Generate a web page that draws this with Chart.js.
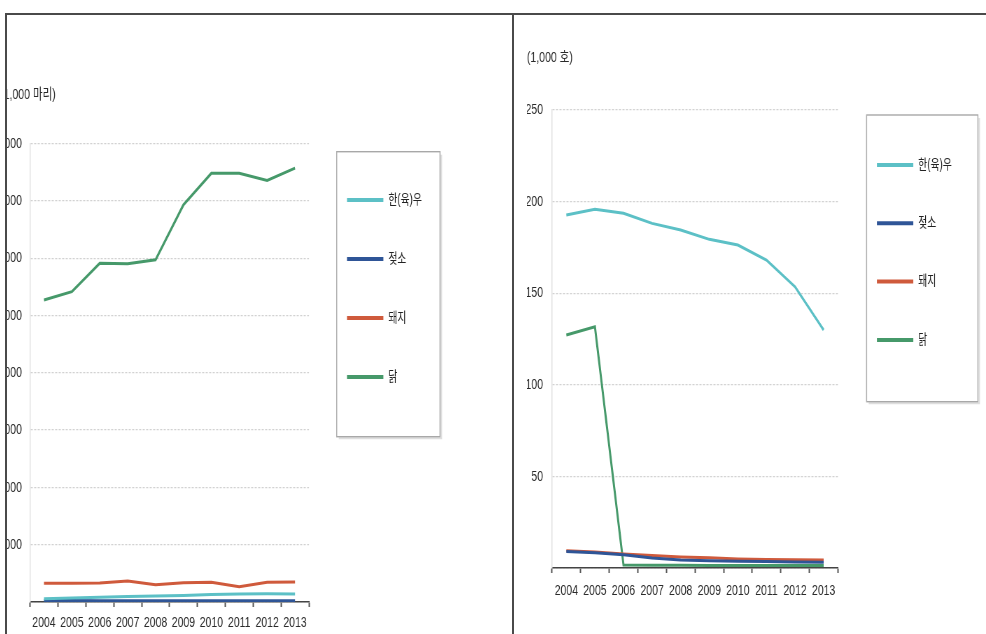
<!DOCTYPE html>
<html lang="ko">
<head>
<meta charset="utf-8">
<script src="https://cdn.jsdelivr.net/npm/chart.js@4.4.1/dist/chart.umd.min.js"></script>
<style>
  html, body { margin: 0; padding: 0; background: #fff; width: 986px; height: 634px; overflow: hidden; }
  .panel { position: absolute; top: 13px; height: 640px; overflow: hidden;
           border-top: 2px solid #4a4a4a; border-left: 2px solid #4a4a4a; }
  #panelHead { left: 5px; width: 507px; }
  #panelFarm { left: 512px; width: 480px; }
  canvas { position: absolute; top: 0; }
</style>
</head>
<body>
<div class="panel" id="panelHead">
  <canvas id="chartHead" width="770" height="619" style="left:-32px; width:539px; height:619px;"></canvas>
</div>
<div class="panel" id="panelFarm">
  <canvas id="chartFarm" width="673" height="619" style="left:1px; width:471px; height:619px;"></canvas>
</div>
<script>
// Both canvases are drawn wider than they are shown, which gives the condensed lettering.
const FONT = "'Liberation Sans', 'Noto Sans CJK KR', sans-serif";

const years = ['2004', '2005', '2006', '2007', '2008', '2009', '2010', '2011', '2012', '2013'];
const seriesNames = ['한(육)우', '젖소', '돼지', '닭'];
const seriesColors = ['#5cc0c6', '#2f5597', '#cf5a3c', '#46996a'];

// 사육 마리수 (1,000 마리)
const headHanwoo  = [1100, 1400, 1700, 1900, 2100, 2300, 2600, 2800, 2900, 2800];
const headDairy   = [500, 480, 460, 450, 450, 440, 430, 400, 420, 420];
const headPig     = [6500, 6500, 6600, 7300, 6000, 6700, 6900, 5300, 6900, 7000];
const headChicken = [105400, 108300, 118200, 118000, 119400, 138600, 149600, 149600, 147100, 151400];
const headAxisMax = 160000;
const headAxisStep = 20000;

// 사육 가구수 (1,000 호)
const farmHanwoo  = [192.7, 195.8, 193.6, 188.1, 184.5, 179.4, 176.3, 168.1, 153.5, 129.9];
const farmDairy   = [9.0, 8.3, 7.2, 5.5, 4.3, 4.0, 3.7, 3.5, 3.3, 3.2];
const farmPig     = [9.4, 8.7, 7.6, 6.8, 6.0, 5.6, 4.9, 4.6, 4.5, 4.4];
const farmChicken = [127.2, 131.7, 1.6, 1.5, 1.5, 1.4, 1.4, 1.4, 1.3, 1.3];
const farmAxisMax = 250;
const farmAxisStep = 50;

function makeDatasets(values) {
  return seriesNames.map((name, i) => ({
    label: name,
    data: values[i],
    borderColor: seriesColors[i],
    backgroundColor: seriesColors[i],
    borderWidth: 3,
    pointRadius: 0,
    tension: 0,
    fill: false
  }));
}

// Places the legend block and draws the framed box around it.
const legendPlace = {
  id: 'legendPlace',
  afterLayout(chart, args, o) {
    const lg = chart.legend;
    if (!lg) return;
    const p = lg.options.labels.padding;
    lg.left = o.x - p;
    lg.right = o.frame.x2;          // the legend clips its drawing to this box
    lg.top = o.y - p;
    lg.bottom = lg.top + lg.height;
  },
  afterDraw(chart, args, o) {
    const f = o.frame;
    const ctx = chart.ctx;
    ctx.save();
    ctx.strokeStyle = '#dedede';
    ctx.lineWidth = 2;
    ctx.beginPath();
    ctx.moveTo(f.x1 + 3, f.y2 + 1.5);
    ctx.lineTo(f.x2 + 2, f.y2 + 1.5);
    ctx.lineTo(f.x2 + 2, f.y1 + 3);
    ctx.stroke();
    ctx.strokeStyle = '#a8a8a8';
    ctx.lineWidth = 1.4;
    ctx.strokeRect(f.x1, f.y1, f.x2 - f.x1, f.y2 - f.y1);
    ctx.restore();
  }
};

function lineSwatches(chart) {
  return Chart.defaults.plugins.legend.labels.generateLabels(chart)
    .map(it => Object.assign(it, { lineWidth: 0, fillStyle: it.strokeStyle }));
}

function drawPanel(canvasId, unitText, values, yMax, yStep, g) {
  return new Chart(document.getElementById(canvasId), {
    type: 'line',
    data: { labels: years, datasets: makeDatasets(values) },
    options: {
      responsive: false,
      animation: false,
      events: [],
      layout: { padding: { left: g.padLeft, right: g.padRight, top: 0, bottom: 0 } },
      scales: {
        x: {
          offset: true,
          grid: { offset: true, drawOnChartArea: false, drawTicks: true, tickLength: 5, tickColor: '#555', tickWidth: 2 },
          border: { display: true, color: '#444', width: 1.6 },
          ticks: { padding: g.xPad, color: '#2a2a2a', autoSkip: false, maxRotation: 0,
                   font: { size: 15, family: FONT } },
          afterFit: s => { s.height = g.xHeight; }
        },
        y: {
          min: 0,
          max: yMax,
          grid: { color: '#d2d2d2', lineWidth: 1.2, drawTicks: false },
          border: { display: true, color: '#e2e2e2', width: 1.5, dash: [3, 2] },
          ticks: { stepSize: yStep, padding: g.yPad, color: '#2a2a2a',
                   font: { size: 15, family: FONT },
                   callback: v => (v === 0 ? '' : v.toLocaleString('en-US')) },
          afterFit: s => { s.width = g.yWidth; }
        }
      },
      plugins: {
        title: {
          display: true, text: unitText, align: 'start', color: '#2a2a2a',
          font: { size: 15, family: FONT, weight: 'normal' },
          padding: { top: g.titleTop, bottom: g.titleBottom }
        },
        legend: {
          position: 'right', align: 'start', maxWidth: 140,
          labels: { boxWidth: 52, boxHeight: 4, padding: g.legendGap, color: '#222',
                    font: { size: 14, family: FONT }, generateLabels: lineSwatches }
        },
        tooltip: { enabled: false },
        legendPlace: { x: g.legendX, y: g.legendY, frame: g.frame }
      }
    },
    plugins: [legendPlace]
  });
}

drawPanel('chartHead', '(1,000 마리)',
  [headHanwoo, headDairy, headPig, headChicken], headAxisMax, headAxisStep,
  { padLeft: 36, padRight: 152.9, yWidth: 42.6, yPad: 11.6, xHeight: 32, xPad: 7,
    titleTop: 71, titleBottom: 39.5, legendGap: 45, legendX: 531.4, legendY: 178,
    frame: { x1: 516.7, y1: 136.7, x2: 664.3, y2: 421.7 } });

drawPanel('chartFarm', '(1,000 호)',
  [farmHanwoo, farmDairy, farmPig, farmChicken], farmAxisMax, farmAxisStep,
  { padLeft: 17.1, padRight: 71.6, yWidth: 35.8, yPad: 12.9, xHeight: 66, xPad: 9,
    titleTop: 34, titleBottom: 43, legendGap: 44.3, legendX: 517.1, legendY: 143,
    frame: { x1: 502.4, y1: 100, x2: 661.4, y2: 386.7 } });
</script>
</body>
</html>
